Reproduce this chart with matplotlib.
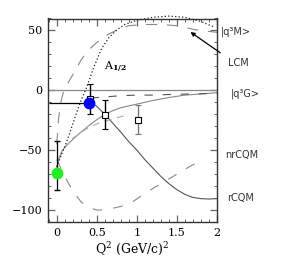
import numpy as np
import matplotlib
matplotlib.use('Agg')
import matplotlib.pyplot as plt
from matplotlib.ticker import MultipleLocator, FixedLocator, FixedFormatter

plt.rcParams['font.family'] = 'DejaVu Serif'
plt.rcParams['mathtext.fontset'] = 'dejavuserif'
plt.rcParams['lines.scale_dashes'] = False

# model curves
rcqm_x = [0.41, 0.5, 0.6, 0.7, 0.8, 0.9, 1.0, 1.1, 1.2, 1.3, 1.4, 1.5, 1.6, 1.7, 1.8, 1.9, 2.0]
rcqm_y = [-9, -13.5, -20, -27.5, -35, -43, -50, -58, -65, -72, -78, -83, -87, -89.5, -90.5, -90.8, -90.5]

q3g_x = [0, 0.03, 0.07, 0.12, 0.2, 0.3, 0.4, 0.5, 0.6, 0.7, 0.8, 1.0, 1.2, 1.4, 1.6, 1.8, 2.0]
q3g_y = [-64, -56, -50, -46, -41, -35, -29.5, -24.5, -20, -17, -14.5, -11.5, -8.5, -6, -4, -3, -2]

q3g2_x = [0.02, 0.1, 0.2, 0.35, 0.5, 0.7, 0.9]
q3g2_y = [-58, -48, -40, -33, -28, -24, -20]

flat_x = [0.42, 0.6, 0.8, 1.0, 1.2, 1.4, 1.7, 2.0]
flat_y = [-6.5, -5.5, -4.5, -4, -4, -3.5, -3, -2.5]

q3m_x = [0, 0.02, 0.05, 0.08, 0.13, 0.2, 0.3, 0.4, 0.5, 0.62, 0.75, 0.9, 1.1, 1.3, 1.5, 1.7, 1.85, 2.0]
q3m_y = [-45, -25, -10, -2, 5, 13, 25, 34, 40, 46, 50.5, 54, 55, 55, 54, 51, 49.5, 48.5]

lcm_x = [0, 0.05, 0.1, 0.15, 0.2, 0.25, 0.3, 0.375, 0.46, 0.56, 0.65, 0.75, 0.85, 1.0, 1.2, 1.4, 1.6, 1.8, 1.96]
lcm_y = [-64, -55, -47, -38, -28, -18, -9, 3, 19, 35, 44, 50.5, 55, 58.5, 61, 62, 61, 57.5, 53]

nrcqm_x = [0, 0.05, 0.1, 0.2, 0.3, 0.4, 0.5, 0.6, 0.8, 0.95, 1.1, 1.2, 1.35, 1.5, 1.65, 1.82]
nrcqm_y = [-58, -65, -72, -84, -93, -98, -100, -100, -97, -93, -86, -82, -76, -70, -64, -58]

# data points
sq_x = [0.41, 0.6, 1.01]
sq_y = [-7, -20.3, -24.4]
sq_err = [12.5, 12, 12.5]
sq_col = ['black', 'black', '#777777']

blue_x, blue_y = 0.40, -10.5
green_x, green_y = 0.0, -69.4

xtick_vals = [0, 0.5, 1, 1.5, 2]
xtick_text = ['0', '0.5', '1', '1.5', '2']

fig = plt.figure(figsize=(2.85, 2.75), dpi=100)
ax = fig.add_axes([48/285, 1-222/275, 169/285, 203.5/275])

ax.axhline(0, color='#888888', lw=0.9)
ax.plot(q3g_x, q3g_y, color='#888888', lw=0.8)
ax.plot(rcqm_x, rcqm_y, color='#555555', lw=0.8)
ax.plot(q3g2_x, q3g2_y, color='#aaaaaa', lw=0.8, dashes=(5, 4))
ax.plot(flat_x, flat_y, color='#555555', lw=0.8, dashes=(6, 7))
ax.plot(q3m_x, q3m_y, color='#888888', lw=0.8, dashes=(8, 7))
ax.plot(nrcqm_x, nrcqm_y, color='#888888', lw=0.8, dashes=(7, 8))
ax.plot(lcm_x, lcm_y, color='#222222', lw=0.9, dashes=(0.9, 1.6), clip_on=False)

# black point at Q2=0 under the green one
ax.errorbar([green_x], [-62], yerr=[[21], [20]], fmt='none', ecolor='black',
            elinewidth=0.9, capsize=2)
for x, y, e, c in zip(sq_x, sq_y, sq_err, sq_col):
    ax.errorbar([x], [y], yerr=[e], fmt='s', ms=4.5, mfc='white', mec='black',
                mew=0.8, ecolor=c, elinewidth=1.0, capsize=2)
ax.errorbar([blue_x], [blue_y], xerr=[[0.5], [0]], fmt='o', ms=7.5, color='blue',
            ecolor='black', elinewidth=0.9, capsize=0, zorder=5)
ax.plot([green_x], [green_y], 'o', ms=7.5, color='#22ee22', zorder=5)

ax.set_xlim(-0.11, 2.0)
ax.set_ylim(-110, 60)
ax.xaxis.set_major_locator(FixedLocator(xtick_vals))
ax.xaxis.set_major_formatter(FixedFormatter(xtick_text))
ax.xaxis.set_minor_locator(MultipleLocator(0.1))
ax.yaxis.set_major_locator(MultipleLocator(50))
ax.yaxis.set_minor_locator(MultipleLocator(10))
ax.tick_params(which='both', direction='in', top=True, right=True,
               color='#666666', labelsize=8, pad=4)
ax.tick_params(which='major', length=5, width=0.9)
ax.tick_params(which='minor', length=2.5, width=0.7)
for s in ax.spines.values():
    s.set_color('#333333')
    s.set_linewidth(1.0)

ax.set_xlabel(r'Q$^2$ (GeV/c)$^2$', fontsize=9, labelpad=2)
ax.text(0.73, 20, r'A$_{\mathbf{1/2}}$', fontsize=8, ha='center', va='center')

lab = dict(fontsize=7, family='DejaVu Sans', color='#333333', va='center',
           ha='left', clip_on=False)
ax.text(2.05, 49, '|q³M>', **lab)
ax.text(2.14, 23, 'LCM', **lab)
ax.text(2.17, -2.5, '|q³G>', **lab)
ax.text(2.10, -54, 'nrCQM', **lab)
ax.text(2.13, -90, 'rCQM', **lab)
ax.annotate('', xy=(1.64, 50), xytext=(2.07, 30),
            arrowprops=dict(arrowstyle='-|>', color='black', lw=0.9,
                            mutation_scale=6), annotation_clip=False)

fig.savefig('out.png', dpi=100)
